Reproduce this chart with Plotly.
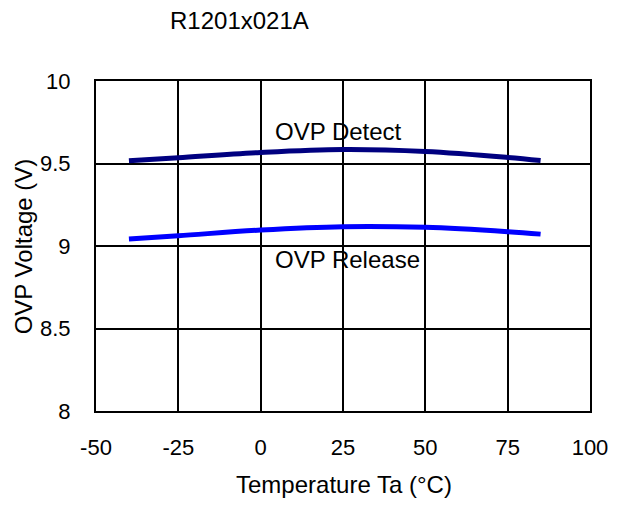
import plotly.graph_objects as go

temps = [-40, -25, 0, 25, 50, 75, 85]
detect_v = [9.516, 9.535, 9.567, 9.585, 9.573, 9.537, 9.518]
release_v = [9.043, 9.062, 9.097, 9.117, 9.113, 9.087, 9.072]

x_ticks = [-50, -25, 0, 25, 50, 75, 100]
x_tick_text = ["-50", "-25", "0", "25", "50", "75", "100"]
y_ticks = [8, 8.5, 9, 9.5, 10]
y_tick_text = ["8", "8.5", "9", "9.5", "10"]

FONT = "Liberation Sans, Arial, sans-serif"
W, H = 620, 505
L, R, T, B = 96, 21, 81, 94
PW, PH = W - L - R, H - T - B


def px_x(px):
    return (px - L) / PW


def px_y(py):
    return 1 - (py - T) / PH


fig = go.Figure()
fig.add_trace(go.Scatter(x=temps, y=detect_v, mode="lines", name="OVP Detect",
                         line=dict(color="#000080", width=5, shape="spline")))
fig.add_trace(go.Scatter(x=temps, y=release_v, mode="lines", name="OVP Release",
                         line=dict(color="#0000FF", width=5, shape="spline")))

ann = dict(xref="paper", yref="paper", showarrow=False, font=dict(size=24))
fig.update_layout(
    width=W, height=H,
    margin=dict(l=L, r=R, t=T, b=B),
    paper_bgcolor="white", plot_bgcolor="white",
    showlegend=False,
    font=dict(family=FONT, size=22, color="black"),
    annotations=[
        dict(text="R1201x021A", x=px_x(242), y=px_y(20), xanchor="center", yanchor="middle", **ann),
        dict(text="Temperature Ta (°C)", x=px_x(349), y=px_y(485), xanchor="center", yanchor="middle", **ann),
        dict(text="OVP Voltage (V)", x=px_x(22), y=px_y(246), xanchor="center", yanchor="middle",
             textangle=-90, **ann),
        dict(text="OVP Detect", x=px_x(276), y=px_y(131), xanchor="left", yanchor="middle", **ann),
        dict(text="OVP Release", x=px_x(276), y=px_y(259), xanchor="left", yanchor="middle", **ann),
    ],
)

fig.update_xaxes(range=[-50, 100], tickvals=x_ticks, ticktext=x_tick_text, showgrid=True,
                 gridcolor="black", gridwidth=2, showline=True, linecolor="black", linewidth=2,
                 mirror=True, zeroline=False, ticks="", ticklabelstandoff=16,
                 tickfont=dict(size=22))
fig.update_yaxes(range=[8, 10], tickvals=y_ticks, ticktext=y_tick_text, showgrid=True,
                 gridcolor="black", gridwidth=2, showline=True, linecolor="black", linewidth=2,
                 mirror=True, zeroline=False, ticks="", ticklabelstandoff=19,
                 tickfont=dict(size=22))

fig.write_html("out.html")
